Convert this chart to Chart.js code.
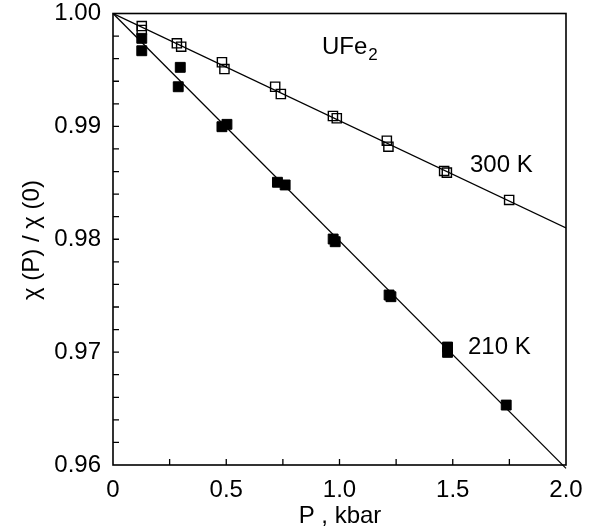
<!DOCTYPE html>
<html>
<head>
<meta charset="utf-8">
<script src="https://cdn.jsdelivr.net/npm/chart.js@4.4.0/dist/chart.umd.min.js"></script>
<style>
  html, body { margin: 0; padding: 0; background: #fff; }
  canvas { display: block; }
</style>
</head>
<body>
<canvas id="chiChart" width="598" height="531"></canvas>
<script>
// measured points, 300 K (open squares)
const pressure300 = [0.127, 0.127, 0.282, 0.301, 0.481, 0.492, 0.716, 0.741, 0.971, 0.988, 1.209, 1.216, 1.462, 1.474, 1.749];
const chi300 = [0.99889, 0.99854, 0.99736, 0.99706, 0.99568, 0.99508, 0.99351, 0.99287, 0.99092, 0.99072, 0.98873, 0.98820, 0.98605, 0.98590, 0.98348];

// measured points, 210 K (filled squares)
const pressure210 = [0.127, 0.127, 0.288, 0.297, 0.481, 0.503, 0.726, 0.760, 0.972, 0.981, 1.219, 1.227, 1.477, 1.477, 1.736];
const chi210 = [0.99780, 0.99670, 0.99351, 0.99523, 0.98997, 0.99018, 0.98505, 0.98481, 0.98002, 0.97978, 0.97506, 0.97491, 0.97045, 0.96998, 0.96531];

// linear fits
const fitP = [0, 2.0];
const fit300 = [1.0, 0.9810];
const fit210 = [1.0, 0.9597];

// axis ticks
const xTicks = [0, 0.5, 1.0, 1.5, 2.0];
const xTickLabels = ['0', '0.5', '1.0', '1.5', '2.0'];
const yTicks = [0.96, 0.97, 0.98, 0.99, 1.00];
const yTickLabels = ['0.96', '0.97', '0.98', '0.99', '1.00'];

const FONT = "'Liberation Sans', Arial, Helvetica, sans-serif";

function toPoints(xs, ys) {
    return xs.map((x, i) => ({ x: x, y: ys[i] }));
}

// frame, inward ticks, labels
const framePlugin = {
    id: 'frame',
    afterDraw(chart) {
        const ctx = chart.ctx;
        const a = chart.chartArea;
        const xs = chart.scales.x;
        const ys = chart.scales.y;
        ctx.save();
        ctx.strokeStyle = '#000';
        ctx.lineWidth = 1.6;
        ctx.strokeRect(a.left, a.top, a.right - a.left, a.bottom - a.top);

        // minor ticks pointing into the plot
        ctx.lineWidth = 1.3;
        ctx.beginPath();
        for (let v = 0.25; v < 2.0; v += 0.25) {
            const px = xs.getPixelForValue(v);
            ctx.moveTo(px, a.bottom);
            ctx.lineTo(px, a.bottom - 6);
        }
        for (let k = 1; k < 20; k++) {
            const py = ys.getPixelForValue(0.96 + k * 0.002);
            ctx.moveTo(a.left, py);
            ctx.lineTo(a.left + 6, py);
        }
        ctx.stroke();

        // annotations
        ctx.fillStyle = '#000';
        ctx.textBaseline = 'middle';
        ctx.textAlign = 'left';
        ctx.font = '24px ' + FONT;
        ctx.fillText('UFe', 322, 47);
        const w = ctx.measureText('UFe').width;
        ctx.font = '17px ' + FONT;
        ctx.fillText('2', 322 + w + 1, 55);
        ctx.font = '24px ' + FONT;
        ctx.fillText('300 K', 470, 165);
        ctx.fillText('210 K', 468, 347);

        // axis titles
        ctx.textAlign = 'center';
        ctx.fillText('P , kbar', 340, 516);
        ctx.translate(32, 240);
        ctx.rotate(-Math.PI / 2);
        ctx.fillText('\u03c7 (P) / \u03c7 (0)', 0, 0);
        ctx.restore();
    }
};

const ctx = document.getElementById('chiChart').getContext('2d');
new Chart(ctx, {
    type: 'scatter',
    data: {
        datasets: [
            {
                type: 'line',
                data: toPoints(fitP, fit300),
                borderColor: '#000',
                borderWidth: 1.3,
                pointRadius: 0,
                fill: false
            },
            {
                type: 'line',
                data: toPoints(fitP, fit210),
                borderColor: '#000',
                borderWidth: 1.3,
                pointRadius: 0,
                fill: false,
                clip: 6
            },
            {
                data: toPoints(pressure300, chi300),
                pointStyle: 'rect',
                pointRadius: 6.5,
                pointBorderWidth: 1.4,
                borderColor: '#000',
                backgroundColor: 'rgba(0,0,0,0)'
            },
            {
                data: toPoints(pressure210, chi210),
                pointStyle: 'rect',
                pointRadius: 7,
                pointBorderWidth: 1,
                borderColor: '#000',
                backgroundColor: '#000'
            }
        ]
    },
    options: {
        responsive: false,
        animation: false,
        layout: { padding: { left: 0, right: 32, top: 13.5, bottom: 0 } },
        plugins: {
            legend: { display: false },
            tooltip: { enabled: false }
        },
        scales: {
            x: {
                type: 'linear',
                min: 0,
                max: 2.0,
                grid: { display: false, drawTicks: false },
                border: { display: false },
                afterBuildTicks: (scale) => { scale.ticks = xTicks.map(v => ({ value: v })); },
                afterFit: (scale) => { scale.height = 66; },
                ticks: {
                    color: '#000',
                    padding: 11,
                    maxRotation: 0,
                    font: { family: FONT, size: 24 },
                    callback: (v, i) => xTickLabels[i]
                }
            },
            y: {
                type: 'linear',
                min: 0.96,
                max: 1.0,
                grid: { display: false, drawTicks: false },
                border: { display: false },
                afterBuildTicks: (scale) => { scale.ticks = yTicks.map(v => ({ value: v })); },
                afterFit: (scale) => {
                    scale.width = 113;
                    scale.paddingTop = 0;
                    scale.paddingBottom = 0;
                },
                ticks: {
                    color: '#000',
                    padding: 12,
                    font: { family: FONT, size: 24 },
                    callback: (v, i) => yTickLabels[i]
                }
            }
        }
    },
    plugins: [framePlugin]
});
</script>
</body>
</html>
